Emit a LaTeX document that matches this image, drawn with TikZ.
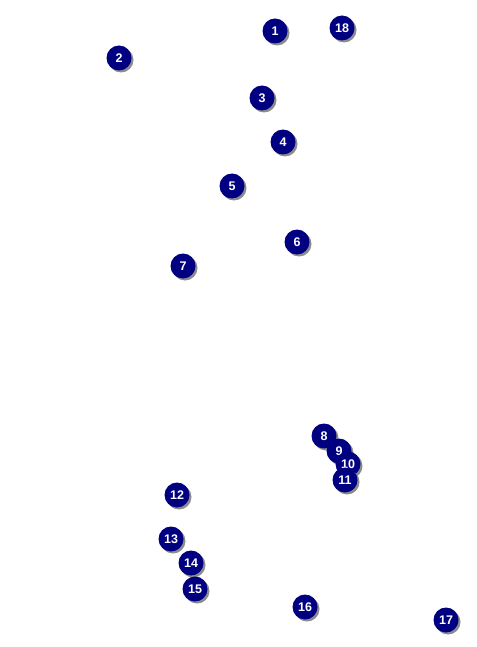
\documentclass[tikz,border=0pt]{standalone}
\usepackage{fontspec}
\setsansfont{Liberation Sans}
\usetikzlibrary{shadows}
\definecolor{pinnavy}{RGB}{0,0,128}

\tikzset{
  pin/.style={circle, fill=pinnavy, inner sep=0pt, minimum size=25pt,
    text=white, font=\sffamily\bfseries\fontsize{12.5}{14}\selectfont,
    drop shadow={shadow xshift=2pt, shadow yshift=-2pt, fill=black!45, opacity=1}}
}

\begin{document}
\begin{tikzpicture}[x=1pt, y=-1pt]
% Frame
\useasboundingbox (0,0) rectangle (476,647);
% Upper group
\node[pin] (p1) at (275,31) {1};
\node[pin] (p18) at (342,28) {18};
\node[pin] (p2) at (119,58) {2};
\node[pin] (p3) at (262,98) {3};
\node[pin] (p4) at (283,142) {4};
\node[pin] (p5) at (232,186) {5};
\node[pin] (p6) at (297,242) {6};
\node[pin] (p7) at (183,266) {7};
% Cluster on the right
\node[pin] (p8) at (324,436) {8};
\node[pin] (p9) at (339,451) {9};
\node[pin] (p10) at (348,464) {10};
\node[pin] (p11) at (345,480) {11};
% Lower group
\node[pin] (p12) at (177,495) {12};
\node[pin] (p13) at (171,539) {13};
\node[pin] (p14) at (191,563) {14};
\node[pin] (p15) at (195,589) {15};
\node[pin] (p16) at (305,607) {16};
\node[pin] (p17) at (446,620) {17};
\end{tikzpicture}
\end{document}
